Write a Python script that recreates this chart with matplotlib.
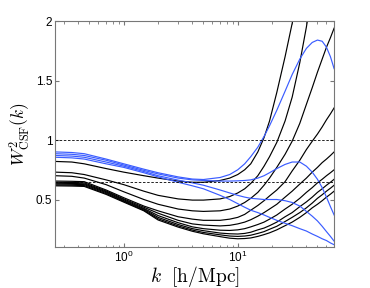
import matplotlib
matplotlib.use("Agg")
import matplotlib.pyplot as plt
from matplotlib.ticker import LogLocator, NullFormatter, FixedLocator

# wavenumber grid [h/Mpc]
k_values = [0.25, 0.35, 0.45, 0.7, 1, 1.5, 2, 3, 4, 5, 7, 8.5, 10, 11.5, 13,
            15, 17, 19, 22, 26, 30, 35, 40, 45, 50, 55, 60, 65, 70]

# black curves (top to bottom)
black_curves = [
    [0.82, 0.815, 0.80, 0.76, 0.73, 0.70, 0.68, 0.655, 0.645, 0.645, 0.66, 0.68, 0.71, 0.75, 0.80,
     0.90, 1.02, 1.16, 1.40, 1.70, 1.98, 2.3, 2.6, 2.8, 3.0, 3.2, 3.4, 3.6, 3.8],
    [0.73, 0.725, 0.71, 0.665, 0.625, 0.57, 0.535, 0.505, 0.495, 0.495, 0.505, 0.525, 0.555, 0.59, 0.635,
     0.70, 0.78, 0.86, 0.98, 1.16, 1.36, 1.65, 1.95, 2.25, 2.5, 2.7, 2.9, 3.1, 3.3],
    [0.70, 0.695, 0.68, 0.625, 0.565, 0.50, 0.46, 0.42, 0.405, 0.40, 0.405, 0.42, 0.445, 0.475, 0.51,
     0.56, 0.62, 0.68, 0.77, 0.88, 0.99, 1.14, 1.30, 1.44, 1.57, 1.68, 1.78, 1.86, 1.94],
    [0.655, 0.653, 0.65, 0.58, 0.515, 0.445, 0.405, 0.355, 0.335, 0.325, 0.325, 0.335, 0.35, 0.375, 0.41,
     0.45, 0.49, 0.53, 0.58, 0.65, 0.74, 0.83, 0.92, 0.99, 1.05, 1.11, 1.17, 1.22, 1.27],
    [0.645, 0.643, 0.64, 0.572, 0.505, 0.435, 0.385, 0.325, 0.295, 0.285, 0.278, 0.283, 0.295, 0.31, 0.33,
     0.36, 0.39, 0.42, 0.46, 0.52, 0.57, 0.63, 0.68, 0.73, 0.77, 0.81, 0.84, 0.87, 0.90],
    [0.637, 0.635, 0.632, 0.565, 0.498, 0.425, 0.365, 0.305, 0.27, 0.255, 0.242, 0.24, 0.245, 0.255, 0.27,
     0.29, 0.31, 0.335, 0.37, 0.42, 0.46, 0.51, 0.56, 0.60, 0.64, 0.67, 0.70, 0.725, 0.75],
    [0.63, 0.628, 0.625, 0.558, 0.49, 0.418, 0.35, 0.29, 0.255, 0.238, 0.218, 0.212, 0.21, 0.215, 0.225,
     0.245, 0.26, 0.28, 0.31, 0.355, 0.39, 0.44, 0.48, 0.52, 0.56, 0.59, 0.62, 0.645, 0.67],
    [0.622, 0.62, 0.617, 0.55, 0.484, 0.41, 0.338, 0.278, 0.243, 0.223, 0.203, 0.193, 0.19, 0.193, 0.20,
     0.215, 0.23, 0.25, 0.275, 0.315, 0.35, 0.39, 0.43, 0.47, 0.51, 0.54, 0.57, 0.595, 0.62],
    [0.615, 0.613, 0.61, 0.543, 0.478, 0.405, 0.328, 0.268, 0.233, 0.212, 0.188, 0.175, 0.17, 0.172, 0.177,
     0.19, 0.205, 0.22, 0.245, 0.28, 0.31, 0.35, 0.39, 0.43, 0.46, 0.49, 0.52, 0.545, 0.57],
]

# blue curves
blue_curves = [
    [0.90, 0.895, 0.885, 0.84, 0.80, 0.755, 0.725, 0.69, 0.672, 0.668, 0.685, 0.71, 0.75, 0.80, 0.86,
     0.94, 1.03, 1.12, 1.25, 1.41, 1.55, 1.68, 1.77, 1.82, 1.84, 1.83, 1.78, 1.70, 1.60],
    [0.885, 0.88, 0.87, 0.83, 0.79, 0.745, 0.715, 0.68, 0.665, 0.66, 0.655, 0.655, 0.657, 0.66, 0.665,
     0.68, 0.70, 0.725, 0.76, 0.795, 0.815, 0.815, 0.78, 0.73, 0.67, 0.60, 0.52, 0.44, 0.37],
    [0.87, 0.865, 0.855, 0.815, 0.78, 0.735, 0.70, 0.663, 0.64, 0.62, 0.58, 0.555, 0.535, 0.52, 0.51,
     0.505, 0.50, 0.50, 0.50, 0.49, 0.475, 0.445, 0.40, 0.36, 0.32, 0.275, 0.23, 0.19, 0.15],
    [0.855, 0.85, 0.84, 0.80, 0.77, 0.725, 0.69, 0.645, 0.615, 0.59, 0.535, 0.50, 0.465, 0.435, 0.41,
     0.39, 0.37, 0.35, 0.325, 0.30, 0.28, 0.255, 0.235, 0.21, 0.19, 0.17, 0.155, 0.135, 0.12],
]

ref_levels = [1.0, 0.65]

plt.rcParams["mathtext.fontset"] = "cm"
plt.rcParams["font.family"] = "Liberation Sans"

fig = plt.figure(figsize=(3.7, 2.88), dpi=100)
ax = fig.add_axes([0.149, 0.142, 0.754, 0.785])

for curve in black_curves:
    ax.plot(k_values, curve, color="black", lw=0.85)
for curve in blue_curves:
    ax.plot(k_values, curve, color="#3a5cff", lw=0.85)
for level in ref_levels:
    ax.axhline(level, color="black", lw=0.6, ls=(0, (3, 2)))

ax.set_xscale("log")
ax.set_xlim(0.25, 70)
ax.set_ylim(0.1, 2)

ax.xaxis.set_major_locator(LogLocator(base=10))
ax.xaxis.set_minor_locator(LogLocator(base=10, subs=range(2, 10)))
ax.xaxis.set_minor_formatter(NullFormatter())
ax.yaxis.set_major_locator(FixedLocator([0.5, 1, 1.5, 2]))
ax.set_yticklabels(["0.5", "1", "1.5", "2"])
ax.yaxis.set_minor_locator(FixedLocator([]))

ax.tick_params(which="both", direction="in", top=True, right=True,
               color="#777777", labelsize=8.5, pad=2)
ax.tick_params(which="major", length=3)
ax.tick_params(which="minor", length=1.8)
for spine in ax.spines.values():
    spine.set_color("#777777")
    spine.set_linewidth(0.8)

ax.set_xlabel(r"$k\ \ [\mathrm{h/Mpc}]$", fontsize=14, labelpad=-1)
ax.set_ylabel(r"$W^2_{\rm CSF}(k)$", fontsize=12.5, labelpad=3)

fig.savefig("out.png", dpi=100)
